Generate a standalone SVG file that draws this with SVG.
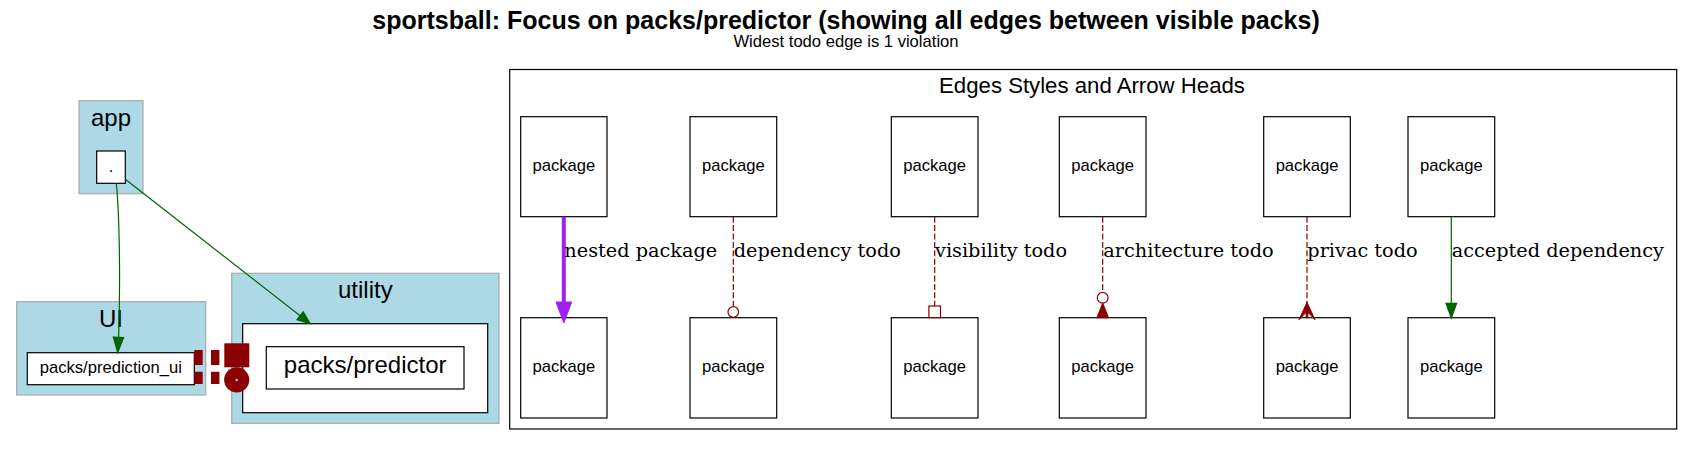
<svg xmlns="http://www.w3.org/2000/svg" width="1693" height="475" viewBox="0 0 1693 475">
<style>
.cl{fill:#add8e6;stroke:#a9a9a9;stroke-width:1.2}
.nd{fill:#fff;stroke:#000;stroke-width:1.2}
.t{font-family:"Liberation Sans",Arial,sans-serif;fill:#000;text-anchor:middle}
.lbl{font-family:"DejaVu Serif",serif;font-size:19.3px;fill:#000}
.dr{fill:none;stroke:#8b0000;stroke-width:1.2;stroke-dasharray:6 2.4}
</style>
<rect width="1693" height="475" fill="#fff"/>
<text class="t" x="846" y="29.3" font-size="25" font-weight="bold">sportsball: Focus on packs/predictor (showing all edges between visible packs)</text>
<text class="t" x="846" y="46.7" font-size="16.6">Widest todo edge is 1 violation</text>

<g id="cluster_app">
<rect class="cl" x="79" y="100.7" width="64" height="93"/>
<text class="t" x="111" y="126" font-size="24">app</text>
</g>
<g id="node_app_root">
<rect class="nd" x="96.7" y="151" width="28.6" height="32.3"/>
<text class="t" x="111" y="171.5" font-size="16.6">.</text>
</g>
<g id="cluster_ui">
<rect class="cl" x="16.7" y="301.7" width="189" height="93.3"/>
<text class="t" x="111" y="327.3" font-size="24">UI</text>
</g>
<g id="node_prediction_ui">
<rect class="nd" x="27.3" y="352.7" width="167" height="32"/>
<text class="t" x="110.8" y="373.3" font-size="16.6">packs/prediction_ui</text>
</g>
<g id="cluster_utility">
<rect class="cl" x="231.7" y="273.3" width="267.3" height="150"/>
<text class="t" x="365.3" y="298.3" font-size="24">utility</text>
<rect class="nd" x="242.7" y="323.7" width="245" height="89"/>
</g>
<g id="node_predictor">
<rect class="nd" x="266.3" y="346.7" width="197.7" height="42.3"/>
<text class="t" x="365.2" y="373.3" font-size="24">packs/predictor</text>
</g>

<g id="cluster_legend">
<rect x="509.7" y="69.5" width="1167" height="359.5" fill="#fff" stroke="#000" stroke-width="1.2"/>
<text class="t" x="1092" y="93.3" font-size="22.2">Edges Styles and Arrow Heads</text>
</g>
<g id="legend_nodes">
<g id="lg_a1"><rect class="nd" x="520.7" y="116.7" width="86.3" height="100"/><text class="t" x="563.8" y="171.2" font-size="16.6">package</text></g>
<g id="lg_a2"><rect class="nd" x="520.7" y="317.7" width="86.3" height="100.3"/><text class="t" x="563.8" y="372" font-size="16.6">package</text></g>
<g id="lg_b1"><rect class="nd" x="690" y="116.7" width="86.7" height="100"/><text class="t" x="733.3" y="171.2" font-size="16.6">package</text></g>
<g id="lg_b2"><rect class="nd" x="690" y="317.7" width="86.7" height="100.3"/><text class="t" x="733.3" y="372" font-size="16.6">package</text></g>
<g id="lg_c1"><rect class="nd" x="891.3" y="116.7" width="86.7" height="100"/><text class="t" x="934.7" y="171.2" font-size="16.6">package</text></g>
<g id="lg_c2"><rect class="nd" x="891.3" y="317.7" width="86.7" height="100.3"/><text class="t" x="934.7" y="372" font-size="16.6">package</text></g>
<g id="lg_d1"><rect class="nd" x="1059.3" y="116.7" width="86.7" height="100"/><text class="t" x="1102.7" y="171.2" font-size="16.6">package</text></g>
<g id="lg_d2"><rect class="nd" x="1059.3" y="317.7" width="86.7" height="100.3"/><text class="t" x="1102.7" y="372" font-size="16.6">package</text></g>
<g id="lg_e1"><rect class="nd" x="1263.7" y="116.7" width="86.6" height="100"/><text class="t" x="1307" y="171.2" font-size="16.6">package</text></g>
<g id="lg_e2"><rect class="nd" x="1263.7" y="317.7" width="86.6" height="100.3"/><text class="t" x="1307" y="372" font-size="16.6">package</text></g>
<g id="lg_f1"><rect class="nd" x="1408" y="116.7" width="86.7" height="100"/><text class="t" x="1451.3" y="171.2" font-size="16.6">package</text></g>
<g id="lg_f2"><rect class="nd" x="1408" y="317.7" width="86.7" height="100.3"/><text class="t" x="1451.3" y="372" font-size="16.6">package</text></g>
</g>

<g id="connectors">
<path d="M116.3,183.3 C119.5,215 120.5,280 118.6,337.3" fill="none" stroke="#006400" stroke-width="1.2"/>
<polygon points="113.4,337.2 123.6,337.6 117.7,352.7" fill="#006400" stroke="#006400" stroke-width="1.2"/>
<path d="M125.3,179.3 L300.1,315.7" fill="none" stroke="#006400" stroke-width="1.2"/>
<polygon points="297,319.6 310.3,323.7 303.2,311.8" fill="#006400" stroke="#006400" stroke-width="1.2"/>

<path d="M194.3,357.5 H220" fill="none" stroke="#8b0000" stroke-width="15" stroke-dasharray="8.4 8.3"/>
<path d="M194.3,377.8 H220" fill="none" stroke="#8b0000" stroke-width="12.3" stroke-dasharray="8.4 8.3"/>
<rect x="224.3" y="343.3" width="25" height="24" fill="#8b0000"/>
<circle cx="236.7" cy="379.8" r="12.6" fill="#8b0000"/>
<circle cx="236.7" cy="380" r="1.2" fill="#add8e6"/>

<path d="M563.8,216.7 V302" fill="none" stroke="#a020f0" stroke-width="4"/>
<polygon points="556,302 571.7,302 563.8,323" fill="#a020f0" stroke="#a020f0" stroke-width="1"/>
<text class="lbl" x="564.3" y="257.3">nested package</text>

<path class="dr" d="M733.3,216.7 V306.7"/>
<circle cx="733.3" cy="312" r="5.3" fill="none" stroke="#8b0000" stroke-width="1.2"/>
<text class="lbl" x="733.7" y="257.3">dependency todo</text>

<path class="dr" d="M934.7,216.7 V306"/>
<rect x="928.9" y="306" width="11.6" height="11.6" fill="none" stroke="#8b0000" stroke-width="1.2"/>
<text class="lbl" x="935" y="257.3">visibility todo</text>

<path class="dr" d="M1102.7,216.7 V292.3"/>
<circle cx="1102.7" cy="297.8" r="5.4" fill="none" stroke="#8b0000" stroke-width="1.2"/>
<polygon points="1102.7,303.3 1108.3,317.6 1097.1,317.6" fill="#8b0000" stroke="#8b0000" stroke-width="1.2"/>
<text class="lbl" x="1103.3" y="257.3">architecture todo</text>

<path class="dr" d="M1307,216.7 V303"/>
<polygon points="1307,302.3 1315,319.8 1308.2,312.5 1307.6,318 1306.4,318 1305.8,312.5 1299,319.8" fill="#8b0000" stroke="#8b0000" stroke-width="1"/>
<text class="lbl" x="1307.3" y="257.3">privac todo</text>

<path d="M1451.3,216.7 V303.3" fill="none" stroke="#006400" stroke-width="1.2"/>
<polygon points="1446,303.3 1456.6,303.3 1451.3,318" fill="#006400" stroke="#006400" stroke-width="1.2"/>
<text class="lbl" x="1451.7" y="257.3">accepted dependency</text>
</g>
</svg>
